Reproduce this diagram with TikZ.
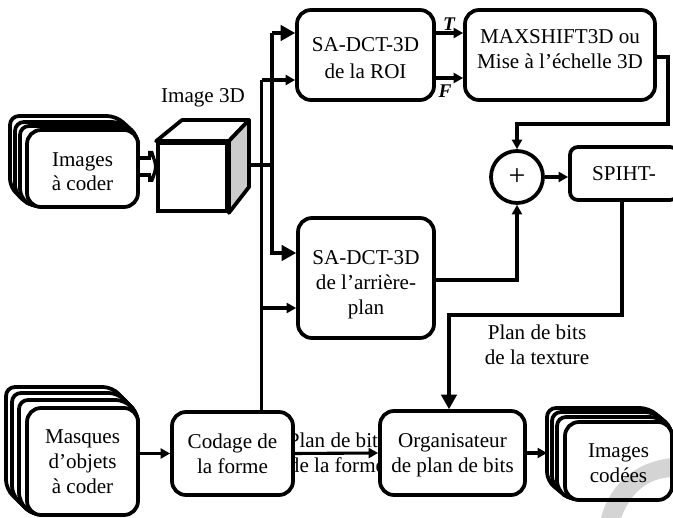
\documentclass[tikz,border=0pt]{standalone}
\usepackage{fontspec}
\setmainfont{Liberation Serif}
\usetikzlibrary{arrows.meta}
\tikzset{
  box/.style={draw=black, fill=white, rounded corners=14*0.2mm, align=center, inner sep=0pt, line width=0.75mm, font=\fontsize{12}{14.2}\selectfont},
  lbl/.style={align=center, inner sep=0pt, font=\fontsize{12}{14.2}\selectfont},
  arrow/.style={-{Triangle[length=1.9mm,width=2mm]}, line width=0.62mm},
  bigarrow/.style={-{Triangle[length=2.9mm,width=3.1mm]}, line width=0.62mm},
  wire/.style={line width=0.62mm},
  layer/.style={draw=black, fill=white, line width=0.75mm, rounded corners=9*0.2mm}
}
% stacked sheets behind a front box: left, top, right, bottom, list of offsets
\newcommand{\pile}[5]{
  \foreach \dx/\dy in {#5} {
    \draw[layer] ({#1-\dx},{#2-\dy}) -- ({#3-\dx-5},{#2-\dy}) -- (#3,{#2+6}) -- (#3,{#4-8}) -- ({#1+6},#4) -- ({#1-\dx},{#4-\dy-5}) -- cycle;
  }
}
% first line taller or last line deeper, to move a text inside its box
\newcommand{\dnline}[1]{\rule{0pt}{#1}}
\newcommand{\upline}[1]{\rule[-#1]{0pt}{#1}}
\begin{document}
\begin{tikzpicture}[x=0.2mm, y=-0.2mm]
\useasboundingbox (0,0) rectangle (673,518);
\clip (0,0) rectangle (673,518);
% input stacks
\pile{27}{130}{138}{207}{17/14,12/8,7/4}
\node[box, minimum width=22.2mm, minimum height=15.4mm] (images) at (82.5,168.5) {\dnline{11.5pt}Images\\à coder};
\pile{27}{408}{138}{515}{21/21,15/15,8/8}
\node[box, minimum width=22.2mm, minimum height=21.4mm] (masques) at (82.5,461.5) {Masques\\d’objets\\à coder};
% cube
\node[draw=black, fill=white, line width=0.75mm, minimum width=13.8mm, minimum height=13.6mm, inner sep=0pt] (cube) at (192.5,177) {};
\draw[line width=0.75mm, fill=white, line join=round] (cube.north west) -- (182,120) -- (249,120) -- (cube.north east) -- cycle;
\draw[line width=0.75mm, fill=black!20, line join=round] (cube.north east) -- (249,120) -- (249,187) -- (cube.south east) -- cycle;
\node[lbl] (cubelabel) at (203,98) {Image 3D};
\coordinate (cubeout) at (249,165);
% hollow arrow into the cube
\draw[line width=0.75mm] (images.east |- 0,158) -- (151,158);
\draw[line width=0.75mm] (images.east |- 0,175) -- (151,175);
\fill (148,151) -- (153,151) .. controls (155,157) and (157,162) .. (157,167) .. controls (157,172) and (155,177) .. (153,182) -- (148,182) -- (148,177) -- (151,177) .. controls (153,173) and (154,170) .. (154,167) .. controls (154,164) and (153,160) .. (151,156) -- (148,156) -- cycle;
% rails
\coordinate (railA) at (272,165);
\coordinate (railB) at (261.5,165);
% blocks
\node[box, minimum width=27.4mm, minimum height=18mm] (roi) at (365.5,55) {\dnline{11pt}SA-DCT-3D\\[1.2pt]de la ROI};
\node[box, minimum width=38mm, minimum height=18mm] (maxshift) at (560,55) {MAXSHIFT3D ou\\Mise à l’échelle 3D\upline{6.5pt}};
\node[box, minimum width=27.2mm, minimum height=24mm] (fond) at (366,278) {\dnline{15.4pt}SA-DCT-3D\\de l’arrière-\\plan};
\node[box, circle, minimum size=10.4mm, font=\fontsize{17}{17}\selectfont] (somme) at (517,177) {+};
\node[box, minimum width=21.6mm, minimum height=10.6mm, rounded corners=1.6mm] (spiht) at (624,173.5) {SPIHT-};
% labels hidden by the boxes go first
\node[lbl] (planforme) at (337,453) {Plan de bits\\de la forme};
\node[box, minimum width=24.2mm, minimum height=16.6mm] (codage) at (232.5,453.5) {Codage de\\la forme};
\node[box, minimum width=29mm, minimum height=16.8mm] (orga) at (452.5,453) {\dnline{10.3pt}Organisateur\\de plan de bits};
\node[lbl] (plantexture) at (537,345) {Plan de bits\\de la texture};
% output stack, the grey arc lies between its fill and its outline
\pile{565}{422}{672}{500}{18/14,13/10,8/5}
\fill[white, rounded corners=14*0.2mm] (565,422) rectangle (672,500);
\fill[black!17] (601,518) .. controls (608,490) and (630,462) .. (673,458) -- (673,477) .. controls (645,478) and (630,495) .. (621,518) -- cycle;
\node[box, fill=none, minimum width=21.4mm, minimum height=15.6mm] (codees) at (618.5,461) {\dnline{10.3pt}Images\\codées};
\coordinate (pileout) at (547,453);
% connectors
\draw[wire] (cubeout) -- (railA);
\draw[arrow] (railB |- 0,80) -- (roi.west |- 0,80);
\draw[wire] (railB |- 0,80) -- (railB |- codage.north);
\draw[bigarrow] (railA |- 0,33) -- (roi.west |- 0,33);
\draw[bigarrow] (railA |- 0,33) -- (railA |- 0,253) -- (fond.west |- 0,253);
\draw[arrow] (railB |- 0,308) -- (fond.west |- 0,308);
\draw[arrow] (roi.east |- 0,33) -- (maxshift.west |- 0,33);
\draw[arrow] (roi.east |- 0,78) -- (maxshift.west |- 0,78);
\node[lbl, font=\fontsize{11}{11}\selectfont\bfseries\itshape] (t) at (449,24) {T};
\node[lbl, font=\fontsize{11}{11}\selectfont\bfseries\itshape] (f) at (445,91) {F};
\draw[arrow] (maxshift.east |- 0,57) -- (668,57) -- (668,124) -- (somme.center |- 0,124) -- (somme.north);
\draw[arrow] (fond.east |- 0,280) -- (somme.center |- 0,280) -- (somme.south);
\draw[arrow] (somme.east) -- (spiht.west |- somme.east);
\draw[bigarrow] (spiht.south -| 622,0) -- (622,315) -- (449,315) -- (orga.north -| 449,0);
\draw[arrow] (masques.east |- codage.west) -- (codage.west);
\draw[arrow] (codage.east) -- (orga.west);
\draw[arrow] (orga.east) -- (pileout);
\end{tikzpicture}
\end{document}
